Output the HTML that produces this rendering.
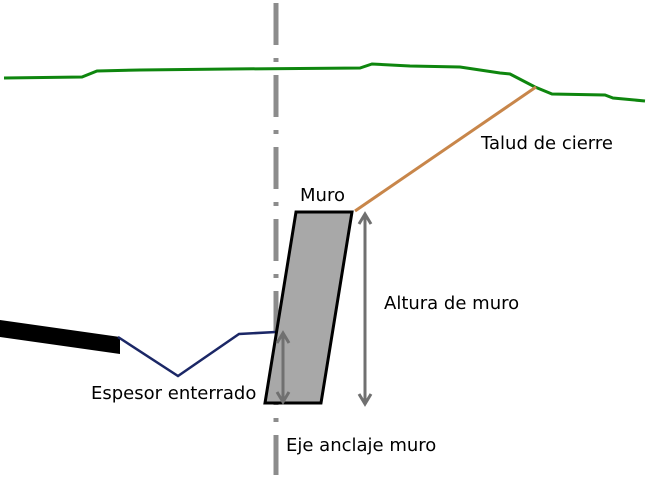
<!DOCTYPE html>
<html><head><style>body{margin:0;background:#fff}svg{display:block}</style></head><body>
<svg width="650" height="495" viewBox="0 0 650 495" xmlns="http://www.w3.org/2000/svg" font-family="DejaVu Sans, sans-serif" font-size="18">
<line x1="276" y1="3" x2="276" y2="475" stroke="#8c8c8c" stroke-width="5" stroke-dasharray="42,13,4,13"/>
<polyline points="4,78 82,77 97,71 140,70 230,69 360,68 372,64 410,66 460,67 480,70 500,73 510,74 535,87 552,94 605,95 613,98 645,101" fill="none" stroke="#0e860e" stroke-width="3"/>
<line x1="355" y1="211" x2="536" y2="87" stroke="#c8864a" stroke-width="3"/>
<polygon points="0,320 120,337 120,354 0,337" fill="#000"/>
<polyline points="118,337 178,376 239,334 276,332" fill="none" stroke="#1b2766" stroke-width="2.5"/>
<polygon points="296,212 352,212 321,403 265,403" fill="#a8a8a8" stroke="#000" stroke-width="3"/>
<g stroke="#707070" stroke-width="3" fill="none">
<line x1="365" y1="215" x2="365" y2="404"/>
<polyline points="359,224 365,214 371,224"/>
<polyline points="359,394 365,404 371,394"/>
<line x1="283" y1="334" x2="283" y2="402"/>
<polyline points="277,343 283,333 289,343"/>
<polyline points="277,392 283,402 289,392"/>
</g>
<text x="300" y="201">Muro</text>
<text x="481" y="149">Talud de cierre</text>
<text x="384" y="309">Altura de muro</text>
<text x="91" y="399">Espesor enterrado</text>
<text x="286" y="451">Eje anclaje muro</text>
</svg>
</body></html>
